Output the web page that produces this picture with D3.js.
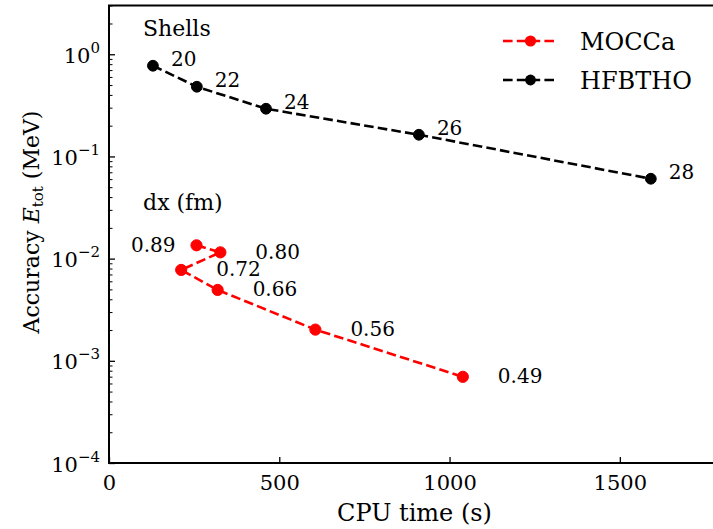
<!DOCTYPE html>
<html>
<head>
<meta charset="utf-8">
<script src="https://cdn.jsdelivr.net/npm/d3@7"></script>
<style>
  html, body { margin: 0; padding: 0; background: #fff; }
  svg { display: block; }
  svg text { font-family: "DejaVu Serif", "Liberation Serif", serif; fill: #000; }
</style>
</head>
<body>
<svg id="chart" width="713" height="529"></svg>
<script>
// ---- data ----
const cpuHFBTHO = [129, 258, 461, 910, 1591];
const accHFBTHO = [0.772, 0.481, 0.293, 0.163, 0.0605];
const shellLabels = ["20", "22", "24", "26", "28"];

const cpuMOCCa = [257, 327, 212, 319, 606, 1039];
const accMOCCa = [0.0135, 0.01152, 0.00775, 0.00494, 0.00202, 0.000697];
const dxLabels = ["0.89", "0.80", "0.72", "0.66", "0.56", "0.49"];

const xTickValues = [0, 500, 1000, 1500];
const yTickExponents = [0, -1, -2, -3, -4];
const seriesNames = ["MOCCa", "HFBTHO"];

(function () {
const FONT = "DejaVu Serif";
// ---- layout ----
const svg = d3.select("#chart");
const padL = 109, padB = 463, padT = 5.5, padR = 722;
const x = d3.scaleLinear().domain([0, 1800]).range([padL, padR]);
const y = d3.scaleLog().domain([1e-4, 3]).range([padB, padT]);

// minor ticks on log axis
const minorY = [];
for (let e = -4; e <= 0; e++) {
  for (let m = 2; m <= 9; m++) {
    const v = m * Math.pow(10, e);
    if (v <= 3) minorY.push(v);
  }
}

// axes
const gx = svg.append("g").attr("transform", `translate(0,${padB})`)
  .call(d3.axisBottom(x).tickValues(xTickValues).tickSizeInner(-6).tickSizeOuter(0).tickPadding(11).tickFormat(d3.format("d")));
gx.attr("font-family", FONT);
gx.select(".domain").remove();
gx.selectAll(".tick line").attr("stroke", "#000").attr("stroke-width", 1.3);
gx.selectAll(".tick text").attr("font-size", 21).attr("dy", null).attr("y", 26.5);

const gyMinor = svg.append("g").attr("transform", `translate(${padL},0)`)
  .call(d3.axisLeft(y).tickValues(minorY).tickSizeInner(-3.5).tickSizeOuter(0).tickFormat(""));
gyMinor.select(".domain").remove();
gyMinor.selectAll(".tick line").attr("stroke", "#000").attr("stroke-width", 1);

const gy = svg.append("g").attr("transform", `translate(${padL},0)`)
  .call(d3.axisLeft(y).tickValues(yTickExponents.map(e => Math.pow(10, e))).tickSizeInner(-6).tickSizeOuter(0).tickFormat(""));
gy.attr("font-family", FONT);
gy.select(".domain").remove();
gy.selectAll(".tick line").attr("stroke", "#000").attr("stroke-width", 1.3);
gy.selectAll(".tick").each(function(d, i) {
  const e = yTickExponents[i];
  const t = d3.select(this).append("text")
    .attr("x", -9).attr("y", 8).attr("text-anchor", "end").attr("font-size", 21).attr("fill", "#000");
  t.append("tspan").text("10");
  t.append("tspan").attr("dy", -10).attr("font-size", 15).text(e === 0 ? "0" : "\u2212" + Math.abs(e));
});

// spines
svg.append("line").attr("x1", padL).attr("x2", padL).attr("y1", padT).attr("y2", padB).attr("stroke", "#000").attr("stroke-width", 2);
svg.append("line").attr("x1", padL - 1).attr("x2", padR).attr("y1", padB).attr("y2", padB).attr("stroke", "#000").attr("stroke-width", 2);
svg.append("line").attr("x1", padL - 1).attr("x2", padR).attr("y1", padT).attr("y2", padT).attr("stroke", "#000").attr("stroke-width", 2);

// axis labels
svg.append("text").attr("x", (padL + padR) / 2 - 1).attr("y", 521).attr("text-anchor", "middle").attr("font-size", 24).text("CPU time (s)");
const yl = svg.append("text").attr("transform", "translate(39,222) rotate(-90)").attr("text-anchor", "middle").attr("font-size", 22);
yl.append("tspan").text("Accuracy ");
yl.append("tspan").attr("font-style", "italic").text("E");
yl.append("tspan").attr("font-size", 15).attr("dy", 4).text("tot");
yl.append("tspan").attr("dy", -4).text(" (MeV)");

// series
const dash = "9.6,4.2";
function drawSeries(xs, ys, color, r) {
  const pts = xs.map((v, i) => [x(v), y(ys[i])]);
  svg.append("path").attr("d", d3.line()(pts)).attr("fill", "none")
    .attr("stroke", color).attr("stroke-width", 2.6).attr("stroke-dasharray", dash);
  svg.append("g").selectAll("circle").data(pts).join("circle")
    .attr("cx", d => d[0]).attr("cy", d => d[1]).attr("r", r)
    .attr("fill", color).attr("stroke", color).attr("stroke-width", 1);
  return pts;
}
const ptsM = drawSeries(cpuMOCCa, accMOCCa, "#ff0000", 5.6);
const ptsH = drawSeries(cpuHFBTHO, accHFBTHO, "#000000", 5.4);

// annotations
svg.append("g").selectAll("text").data(ptsH).join("text")
  .attr("x", d => d[0] + 18).attr("y", d => d[1]).attr("font-size", 20)
  .text((d, i) => shellLabels[i]);
svg.append("g").selectAll("text").data(ptsM).join("text")
  .attr("x", (d, i) => i === 0 ? d[0] - 21 : d[0] + 35)
  .attr("y", d => d[1] + 6.5)
  .attr("text-anchor", (d, i) => i === 0 ? "end" : "start")
  .attr("font-size", 20)
  .text((d, i) => dxLabels[i]);

svg.append("text").attr("x", x(100)).attr("y", y(1.5)).attr("font-size", 22).text("Shells");
svg.append("text").attr("x", x(100)).attr("y", y(0.03)).attr("font-size", 22).text("dx (fm)");

// legend
const legColors = ["#ff0000", "#000000"];
const leg = svg.append("g");
seriesNames.forEach((name, i) => {
  const ly = 41 + i * 39;
  leg.append("line").attr("x1", 503).attr("x2", 558).attr("y1", ly).attr("y2", ly)
    .attr("stroke", legColors[i]).attr("stroke-width", 2.6).attr("stroke-dasharray", dash);
  leg.append("circle").attr("cx", 530.5).attr("cy", ly).attr("r", i === 0 ? 5.6 : 5.4).attr("fill", legColors[i]);
  leg.append("text").attr("x", 580).attr("y", ly + 8.5).attr("font-size", 24).text(name);
});
})();
</script>
</body>
</html>
